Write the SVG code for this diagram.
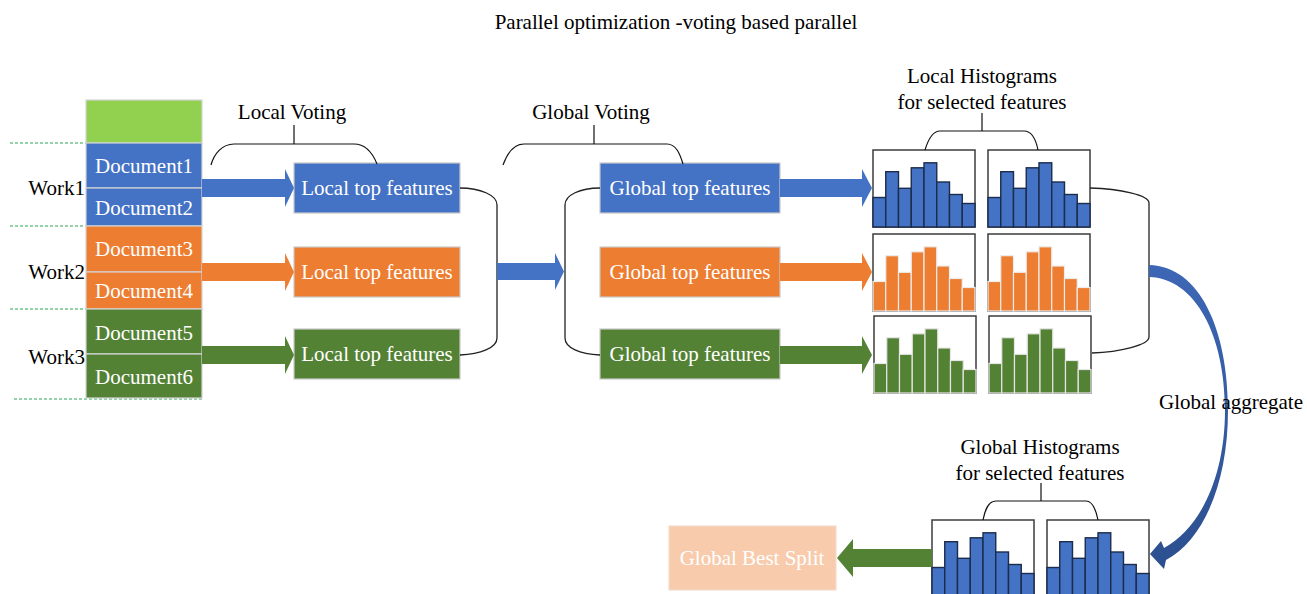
<svg xmlns="http://www.w3.org/2000/svg" xmlns:xlink="http://www.w3.org/1999/xlink" width="1307" height="594" viewBox="0 0 1307 594" font-family="Liberation Serif, DejaVu Serif, serif">
  <style>
    text { font-family: "Liberation Serif", "DejaVu Serif", serif; font-size: 21px; }
    .wt { fill: #fff; text-anchor: middle; }
    .mid { text-anchor: middle; }
    .cell { stroke: #d4d4d4; stroke-width: 1.2; }
    .box { stroke: #c8c8c8; stroke-width: 1.2; }
    .blue { fill: #4472c4; }
    .orange { fill: #ed7d31; }
    .green { fill: #548235; }
    .brace { fill: none; stroke: #111; stroke-width: 1.2; }
    .bracket { fill: none; stroke: #222; stroke-width: 1.3; }
    .dash { stroke: #72c58f; stroke-width: 1.3; stroke-dasharray: 3 2; }
    .frame { fill: #fff; stroke: #3c3c3c; stroke-width: 1.5; }
    .bars-blue { fill: #4472c4; stroke: #1c2c4c; stroke-width: 1.4; }
    .bars-orange { fill: #ed7d31; stroke: #ececec; stroke-width: 1.2; }
    .bars-green { fill: #548235; stroke: #e6e6e6; stroke-width: 1.2; }
  </style>
  <defs>
    <!-- eight-bin histogram, 102 x 77 -->
    <g id="bars">
      <rect x="0" y="47.5" width="12.75" height="29.5"/>
      <rect x="12.75" y="21.7" width="12.75" height="55.3"/>
      <rect x="25.5" y="38.3" width="12.75" height="38.7"/>
      <rect x="38.25" y="17.8" width="12.75" height="59.2"/>
      <rect x="51" y="12.8" width="12.75" height="64.2"/>
      <rect x="63.75" y="32" width="12.75" height="45"/>
      <rect x="76.5" y="44.5" width="12.75" height="32.5"/>
      <rect x="89.25" y="53.5" width="12.75" height="23.5"/>
    </g>
    <linearGradient id="aggGrad" x1="0" y1="0" x2="0" y2="1">
      <stop offset="0" stop-color="#3d67b5"/>
      <stop offset="1" stop-color="#2c4f8f"/>
    </linearGradient>
  </defs>

  <rect width="1307" height="594" fill="#fff"/>

  <text x="676" y="29" class="mid">Parallel optimization -voting based parallel</text>

  <!-- worker partitions -->
  <g id="partition-lines">
    <line x1="10" y1="143" x2="86" y2="143" class="dash"/>
    <line x1="10" y1="226" x2="86" y2="226" class="dash"/>
    <line x1="10" y1="309" x2="86" y2="309" class="dash"/>
    <line x1="14" y1="399" x2="202" y2="399" class="dash"/>
  </g>
  <g id="work-labels">
    <text x="85" y="195" text-anchor="end">Work1</text>
    <text x="85" y="279" text-anchor="end">Work2</text>
    <text x="85" y="364" text-anchor="end">Work3</text>
  </g>

  <g id="documents">
    <rect x="86" y="100" width="116" height="43" fill="#92d050" class="cell"/>
    <g id="doc1"><rect x="86" y="143" width="116" height="45" class="blue cell"/><text x="144" y="173" class="wt">Document1</text></g>
    <g id="doc2"><rect x="86" y="188" width="116" height="38" class="blue cell"/><text x="144" y="215" class="wt">Document2</text></g>
    <g id="doc3"><rect x="86" y="226" width="116" height="46" class="orange cell"/><text x="144" y="256" class="wt">Document3</text></g>
    <g id="doc4"><rect x="86" y="272" width="116" height="37" class="orange cell"/><text x="144" y="298" class="wt">Document4</text></g>
    <g id="doc5"><rect x="86" y="309" width="116" height="45" class="green cell"/><text x="144" y="340" class="wt">Document5</text></g>
    <g id="doc6"><rect x="86" y="354" width="116" height="44" class="green cell"/><text x="144" y="384" class="wt">Document6</text></g>
  </g>

  <g id="local-top">
    <g id="local1"><rect x="294" y="163" width="166" height="50" class="blue box"/><text x="377" y="195" class="wt">Local top features</text></g>
    <g id="local2"><rect x="294" y="247" width="166" height="50" class="orange box"/><text x="377" y="279" class="wt">Local top features</text></g>
    <g id="local3"><rect x="294" y="329" width="166" height="50" class="green box"/><text x="377" y="361" class="wt">Local top features</text></g>
  </g>

  <g id="global-top">
    <g id="global1"><rect x="600" y="163" width="180" height="50" class="blue box"/><text x="690" y="195" class="wt">Global top features</text></g>
    <g id="global2"><rect x="600" y="247" width="180" height="50" class="orange box"/><text x="690" y="279" class="wt">Global top features</text></g>
    <g id="global3"><rect x="600" y="329" width="180" height="50" class="green box"/><text x="690" y="361" class="wt">Global top features</text></g>
  </g>

  <g id="local-histograms">
    <g transform="translate(873,150)"><rect class="frame" width="102" height="77"/><use xlink:href="#bars" class="bars-blue"/></g>
    <g transform="translate(988,150)"><rect class="frame" width="102" height="77"/><use xlink:href="#bars" class="bars-blue"/></g>
    <g transform="translate(873,234)"><rect class="frame" width="102" height="77"/><use xlink:href="#bars" class="bars-orange"/></g>
    <g transform="translate(988,234)"><rect class="frame" width="102" height="77"/><use xlink:href="#bars" class="bars-orange"/></g>
    <g transform="translate(874,316)"><rect class="frame" width="102" height="77"/><use xlink:href="#bars" class="bars-green"/></g>
    <g transform="translate(989,316)"><rect class="frame" width="102" height="77"/><use xlink:href="#bars" class="bars-green"/></g>
  </g>

  <g id="global-histograms">
    <g transform="translate(932,520)"><rect class="frame" width="102" height="77"/><use xlink:href="#bars" class="bars-blue"/></g>
    <g transform="translate(1047,520)"><rect class="frame" width="102" height="77"/><use xlink:href="#bars" class="bars-blue"/></g>
  </g>

  <g id="best-split">
    <rect x="669" y="526" width="167" height="64" fill="#f8cbad" stroke="#f3dccc" stroke-width="1.2"/>
    <text x="752" y="565" class="wt">Global Best Split</text>
  </g>

  <g id="annotations">
    <text x="292" y="119" class="mid">Local Voting</text>
    <text x="591" y="119" class="mid">Global Voting</text>
    <text x="982" y="83" class="mid">Local Histograms</text>
    <text x="982" y="109" class="mid">for selected features</text>
    <text x="1040" y="454" class="mid">Global Histograms</text>
    <text x="1040" y="480" class="mid">for selected features</text>
  </g>

  <g id="connectors">
    <!-- braces -->
    <path class="brace" d="M211,165 C214,154 222,144 234,144 L354,144 C366,144 373,154 377,164 M294,125 V144"/>
    <path class="brace" d="M503,165 C507,154 514,144 524,144 L667,144 C676,144 680,154 683,164 M594,125 V144"/>
    <path class="brace" d="M925,150 C928,140 932,131 940,131 L1024,131 C1032,131 1036,140 1038,150 M982,113 V131"/>
    <path class="brace" d="M983,520 C985,510 988,501 996,501 L1086,501 C1093,501 1096,510 1098,520 M1041,483 V501"/>

    <!-- brackets -->
    <path class="bracket" d="M460,188 C480,188 497,195 497,205 V338 C497,348 480,354 460,355"/>
    <path class="bracket" d="M600,188 C580,188 565,195 565,205 V338 C565,348 580,354 600,355"/>
    <path class="bracket" d="M1090,188 C1120,189 1149,195 1149,203 V337 C1149,345 1120,352 1092,353"/>

    <!-- documents to local top features -->
    <polygon class="blue" points="202,179 285,179 285,169 294,188 285,207 285,197 202,197"/>
    <polygon class="orange" points="202,263 285,263 285,253 294,272 285,291 285,281 202,281"/>
    <polygon class="green" points="202,346 285,346 285,336 294,355 285,374 285,364 202,364"/>

    <!-- local to global -->
    <polygon class="blue" points="497,263 555,263 555,253 564,271.5 555,290 555,280 497,280"/>

    <!-- global top features to histograms -->
    <polygon class="blue" points="780,179 862,179 862,169 872,188 862,207 862,197 780,197"/>
    <polygon class="orange" points="780,263 862,263 862,253 872,272 862,291 862,281 780,281"/>
    <polygon class="green" points="780,346 862,346 862,336 872,355 862,374 862,364 780,364"/>

    <!-- aggregate curve -->
    <path fill="url(#aggGrad)" d="M1149,265 C1200,266 1228,330 1228,410 C1228,482 1204,540 1166,560 L1164,569 L1150,554 L1161,541 L1164,548 C1198,530 1225,480 1225,410 C1225,335 1195,278 1149,277 Z"/>

    <!-- global histograms to best split -->
    <polygon class="green" points="932,549 853,549 853,539 837,558 853,577 853,567 932,567"/>
  </g>

  <text x="1231" y="409" class="mid">Global aggregate</text>
</svg>
